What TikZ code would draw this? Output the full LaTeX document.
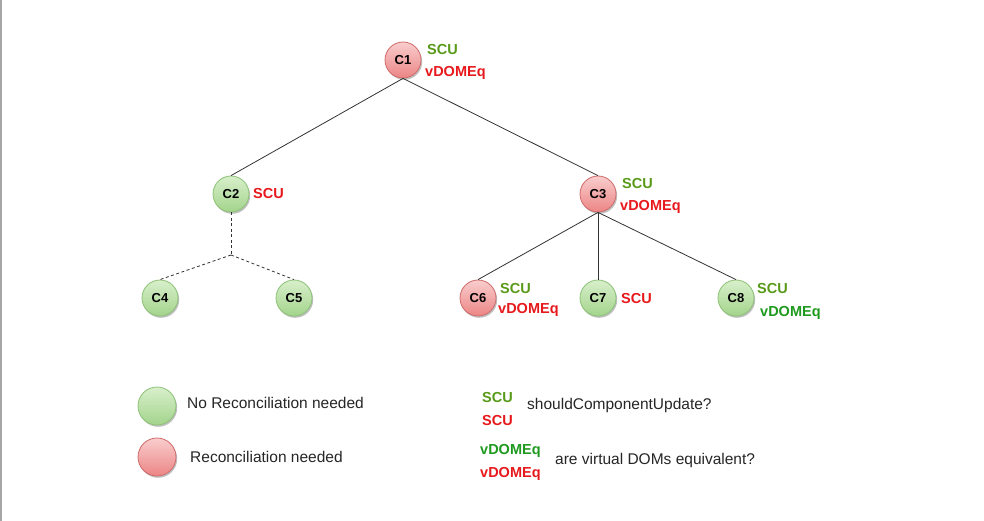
\documentclass[tikz,border=0pt]{standalone}
\usepackage{fontspec}
\setmainfont{Liberation Sans}
\usetikzlibrary{shadows}
\definecolor{gtxt}{HTML}{5A9A1A}
\definecolor{dgtxt}{HTML}{1E9A1E}
\definecolor{rtxt}{HTML}{E8191C}
\definecolor{gbord}{HTML}{8CC276}
\definecolor{rbord}{HTML}{D06A6A}
\definecolor{gtop}{HTML}{D8EFCB}
\definecolor{gbot}{HTML}{A3D48C}
\definecolor{rtop}{HTML}{F9CDCD}
\definecolor{rbot}{HTML}{EC8585}
\tikzset{
  cnode/.style={circle, minimum size=36pt, inner sep=0pt, line width=0.8pt,
    font=\fontsize{13}{15}\selectfont\bfseries,
    drop shadow={shadow xshift=1.2pt, shadow yshift=-1.8pt, opacity=0.25, fill=black}},
  gnode/.style={cnode, draw=gbord, top color=gtop, bottom color=gbot},
  rnode/.style={cnode, draw=rbord, top color=rtop, bottom color=rbot},
  lbl/.style={anchor=base west, inner sep=0pt, font=\fontsize{14.5}{16}\selectfont\bfseries},
  leg/.style={anchor=base west, inner sep=0pt, font=\fontsize{15.5}{17}\selectfont, text=black!85},
  edge/.style={draw=black!80, line width=0.8pt},
  dedge/.style={edge, dash pattern=on 3pt off 2.5pt}
}
\begin{document}
\begin{tikzpicture}[x=1pt,y=-1pt]
\useasboundingbox (0,0) rectangle (984,521);
\fill[white] (0,0) rectangle (984,521);
\draw[black!35, line width=1.5pt] (1,0) -- (1,521);

% nodes
\node[rnode] (c1) at (403,60) {C1};
\node[gnode] (c2) at (231,194) {C2};
\node[rnode] (c3) at (598,194) {C3};
\node[gnode] (c4) at (160,298) {C4};
\node[gnode] (c5) at (294,298) {C5};
\node[rnode] (c6) at (478,298) {C6};
\node[gnode] (c7) at (598,298) {C7};
\node[gnode] (c8) at (736,298) {C8};

% edges
\draw[edge] (c1.south) -- (c2.north);
\draw[edge] (c1.south) -- (c3.north);
\draw[edge] (c3.south) -- (c6.north);
\draw[edge] (c3.south) -- (c7.north);
\draw[edge] (c3.south) -- (c8.north);
\coordinate (j) at (231,255);
\draw[dedge] (c2.south) -- (j);
\draw[dedge] (j) -- (c4.north);
\draw[dedge] (j) -- (c5.north);

% labels
\node[lbl, text=gtxt] (l1a) at (427,55) {SCU};
\node[lbl, text=rtxt] (l1b) at (425,77) {vDOMEq};
\node[lbl, text=rtxt] (l2a) at (253,199) {SCU};
\node[lbl, text=gtxt] (l3a) at (622,189) {SCU};
\node[lbl, text=rtxt] (l3b) at (620,211) {vDOMEq};
\node[lbl, text=gtxt] (l6a) at (500,293) {SCU};
\node[lbl, text=rtxt] (l6b) at (498,313) {vDOMEq};
\node[lbl, text=rtxt] (l7a) at (621,303) {SCU};
\node[lbl, text=gtxt] (l8a) at (757,293) {SCU};
\node[lbl, text=dgtxt] (l8b) at (760,316) {vDOMEq};

% legend
\node[gnode, minimum size=38pt] (lg) at (157,406) {};
\node[rnode, minimum size=38pt] (lr) at (157,457) {};
\node[leg] (tg) at (187,408) {No Reconciliation needed};
\node[leg] (tr) at (190,462) {Reconciliation needed};
\node[lbl, text=gtxt] (ls1) at (482,402) {SCU};
\node[lbl, text=rtxt] (ls2) at (482,425) {SCU};
\node[leg] (ts) at (527,409) {shouldComponentUpdate?};
\node[lbl, text=dgtxt] (lv1) at (480,454) {vDOMEq};
\node[lbl, text=rtxt] (lv2) at (480,477) {vDOMEq};
\node[leg] (tv) at (555,464) {are virtual DOMs equivalent?};
\end{tikzpicture}
\end{document}
